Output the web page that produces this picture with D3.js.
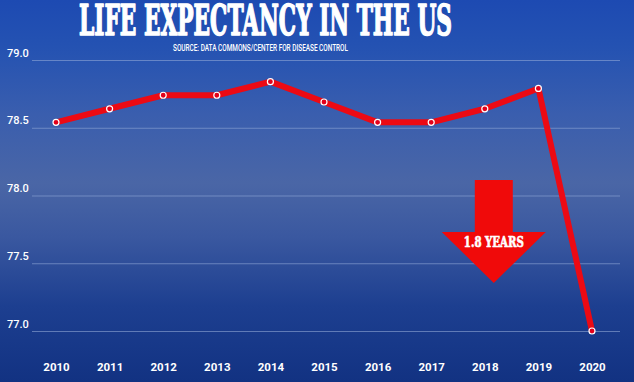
<!DOCTYPE html>
<html><head><meta charset="utf-8">
<script src="https://cdn.jsdelivr.net/npm/d3@7"></script>
<style>html,body{margin:0;padding:0;background:#1f4bb0;}svg{display:block;}</style>
</head><body>
<svg id="c" width="634" height="382"></svg>
<script>
const years = [2010,2011,2012,2013,2014,2015,2016,2017,2018,2019,2020];
const lifeExpectancy = [78.54,78.64,78.74,78.74,78.84,78.69,78.54,78.54,78.64,78.79,77.0];
const yTicks = [77.0,77.5,78.0,78.5,79.0];
const titleText = "LIFE EXPECTANCY IN THE US";
const subtitleText = "SOURCE: DATA COMMONS/CENTER FOR DISEASE CONTROL";
const arrowLabel = "1.8 YEARS";

const W=634,H=382;
const svg=d3.select("#c");
const defs=svg.append("defs");
const g=defs.append("linearGradient").attr("id","bg").attr("x1",0).attr("y1",0).attr("x2",0).attr("y2",1);
[[0,"#1d4ab2"],[0.12,"#2452b2"],[0.3,"#3a5eae"],[0.48,"#4a66a6"],[0.62,"#3a58a0"],[0.8,"#1d3f90"],[1,"#123282"]]
 .forEach(([o,c])=>g.append("stop").attr("offset",o).attr("stop-color",c));
svg.append("rect").attr("width",W).attr("height",H).attr("fill","url(#bg)");

const x=d3.scalePoint().domain(years).range([56,592]);
const y=d3.scaleLinear().domain([77,79]).range([331,60]);

// gridlines
const yAxis=d3.axisLeft(y).tickValues(yTicks).tickSize(-(620-32)).tickFormat(d3.format(".1f"));
const ya=svg.append("g").attr("transform","translate(32,0)").call(yAxis);
ya.select(".domain").remove();
ya.selectAll(".tick line").attr("stroke","#8fa6d6").attr("stroke-opacity",0.6).attr("stroke-width",1);
ya.selectAll(".tick text").attr("x",-25).attr("dy",-4).attr("text-anchor","start")
  .attr("fill","#ffffff").style("font-family","Roboto").style("font-size","11px").style("font-weight","500");

const xAxis=d3.axisBottom(x).tickSize(0).tickFormat(d3.format("d"));
const xa=svg.append("g").attr("transform","translate(0,360)").call(xAxis);
xa.select(".domain").remove();
xa.selectAll(".tick text").attr("dy",0).attr("y",11).attr("fill","#ffffff")
  .style("font-family","Roboto").style("font-size","11.5px").style("font-weight","bold");

// arrow
const ax=x(2018)+9;
const arrowPts=[[ax-19,180],[ax+19,180],[ax+19,232],[ax+52,232],[ax,283],[ax-52,232],[ax-19,232]];
svg.append("polygon").attr("points",arrowPts.map(p=>p.join(",")).join(" ")).attr("fill","#f00a0a");
svg.append("text").attr("x",ax).attr("y",247).attr("text-anchor","middle")
  .attr("fill","#fff").attr("stroke","#fff").attr("stroke-width",0.6)
  .style("font-family","DejaVu Serif Condensed").style("font-weight","bold")
  .style("font-size","14px").attr("textLength",60).attr("lengthAdjust","spacingAndGlyphs").text(arrowLabel);

// line
const data=years.map((yr,i)=>({yr,v:lifeExpectancy[i]}));
svg.append("path").datum(data)
  .attr("d",d3.line().x(d=>x(d.yr)).y(d=>y(d.v)))
  .attr("fill","none").attr("stroke","#ec0a14").attr("stroke-width",6).attr("stroke-linejoin","round");
svg.selectAll("circle.p").data(data).join("circle").attr("class","p")
  .attr("cx",d=>x(d.yr)).attr("cy",d=>y(d.v)).attr("r",3)
  .attr("fill","#e3001a").attr("stroke","#fff").attr("stroke-width",1.2);

// title
svg.append("text").attr("x",79).attr("y",35).attr("fill","#fff").attr("stroke","#fff").attr("stroke-width",1.6)
  .attr("stroke-linejoin","round")
  .style("font-family","DejaVu Serif Condensed").style("font-weight","bold").style("font-size","43px")
  .attr("textLength",373).attr("lengthAdjust","spacingAndGlyphs").text(titleText);
svg.append("text").attr("x",173).attr("y",50.5).attr("fill","#fff")
  .style("font-family","Roboto").style("font-weight","500").style("font-size","9px")
  .attr("textLength",175).attr("lengthAdjust","spacingAndGlyphs").text(subtitleText);
</script>
</body></html>
